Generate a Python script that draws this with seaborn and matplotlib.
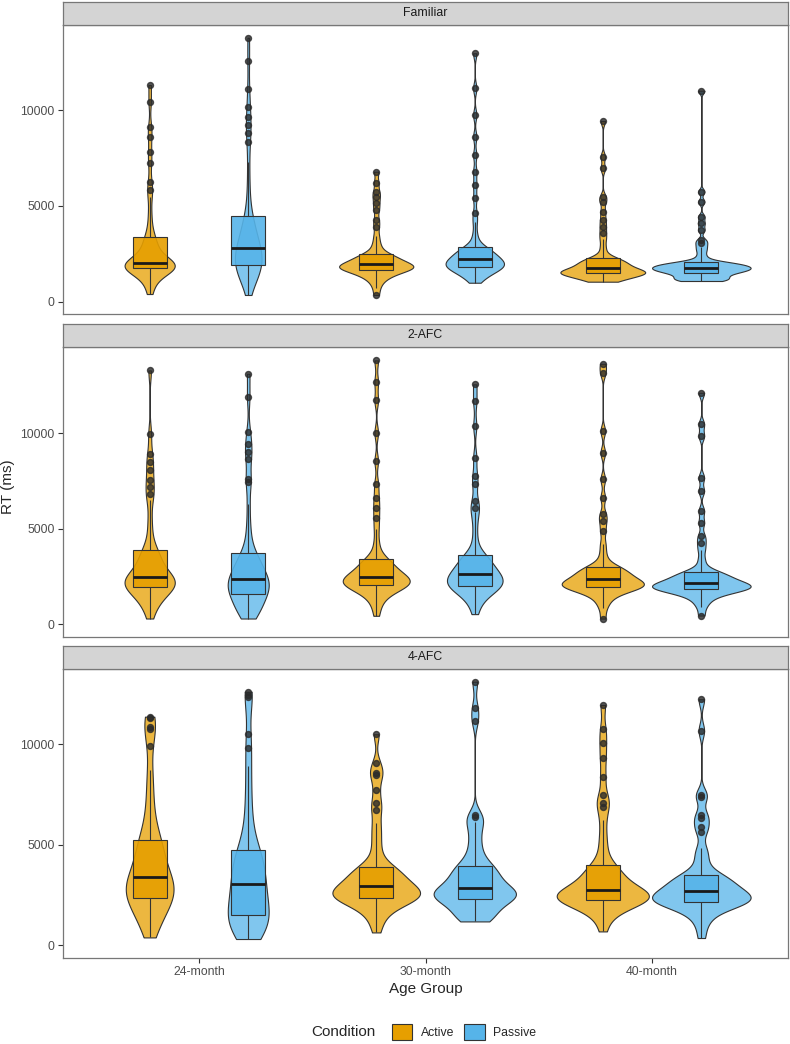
import numpy as np
import pandas as pd
import matplotlib.pyplot as plt
import seaborn as sns
from matplotlib.patches import Patch

sns.set_style("white")
plt.rcParams["font.family"] = ["Liberation Sans", "DejaVu Sans"]

tasks = ["Familiar", "2-AFC", "4-AFC"]
ages = ["24-month", "30-month", "40-month"]
conditions = ["Active", "Passive"]
colors = {"Active": "#E69F00", "Passive": "#56B4E9"}

# -----------------------------
# RT samples (ms), read off the violins / boxes / outliers
# -----------------------------
familiar_24_active = [
    400, 700, 950, 1150, 1300, 1420, 1510, 1580, 1640, 1690, 1730, 1755,
    1775,
    1795, 1815, 1835, 1855, 1875, 1895, 1915, 1935, 1960, 1980, 2000,
    2020,
    2080, 2150, 2230, 2320, 2420, 2530, 2650, 2780, 2930, 3080, 3230,
    3361,
    3650, 4100, 4700, 5450, 5850, 6265, 7220, 7830, 8610, 9135, 10440, 11310]
familiar_24_passive = [
    350, 800, 990, 1130, 1250, 1360, 1455, 1545, 1625, 1705, 1780, 1850,
    1915,
    1990, 2065, 2140, 2215, 2290, 2370, 2450, 2530, 2610, 2690, 2745,
    2800,
    2900, 3000, 3110, 3220, 3340, 3470, 3610, 3760, 3920, 4100, 4280,
    4473,
    4900, 5500, 6300, 7300, 8352, 8790, 9224, 9657, 10180, 11090, 12565, 13780]
familiar_30_active = [
    350, 700, 950, 1110, 1230, 1320, 1390, 1450, 1500, 1545, 1590, 1625,
    1655,
    1700, 1740, 1770, 1790, 1805, 1818, 1830, 1842, 1855, 1875, 1910,
    1950,
    1990, 2030, 2070, 2110, 2150, 2190, 2240, 2290, 2340, 2390, 2440,
    2490,
    2650, 2850, 3100, 3450, 3915, 4265, 4787, 5136, 5481, 5742, 6212, 6786]
familiar_30_passive = [
    990, 1150, 1270, 1360, 1440, 1510, 1570, 1625, 1675, 1720, 1760, 1780,
    1796,
    1830, 1865, 1900, 1935, 1970, 2005, 2040, 2075, 2110, 2145, 2180,
    2213,
    2260, 2310, 2360, 2410, 2460, 2515, 2570, 2630, 2690, 2750, 2810,
    2871,
    3150, 3550, 4150, 4614, 5397, 6091, 6786, 7658, 8613, 9746, 11140, 12966]
familiar_40_active = [
    1044, 1070, 1110, 1160, 1220, 1280, 1330, 1370, 1405, 1435, 1455, 1470,
    1482,
    1495, 1510, 1525, 1540, 1555, 1570, 1585, 1600, 1620, 1650, 1700,
    1775,
    1810, 1850, 1890, 1930, 1970, 2010, 2050, 2100, 2150, 2200, 2235,
    2265,
    2500, 2850, 3250, 3570, 3915, 4265, 4698, 5220, 5481, 6963, 7569, 9433]
familiar_40_passive = [
    1080, 1095, 1115, 1140, 1170, 1205, 1245, 1290, 1340, 1395, 1450, 1490,
    1514,
    1540, 1565, 1590, 1615, 1640, 1665, 1690, 1710, 1730, 1750, 1763,
    1775,
    1800, 1825, 1850, 1875, 1900, 1925, 1950, 1975, 2000, 2020, 2040,
    2057,
    2200, 2400, 2650, 2850, 3048, 3221, 3743, 4092, 4437, 5220, 5742, 11014]

afc2_24_active = [
    303, 700, 950, 1130, 1280, 1410, 1520, 1620, 1710, 1790, 1860, 1915,
    1963,
    2005, 2050, 2095, 2140, 2185, 2230, 2275, 2320, 2365, 2410, 2450,
    2485,
    2570, 2660, 2760, 2870, 2990, 3110, 3240, 3380, 3530, 3680, 3800,
    3896,
    4300, 4900, 5600, 6500, 6841, 7192, 7542, 8064, 8498, 8933, 9979, 13295]
afc2_24_passive = [
    303, 430, 560, 680, 800, 910, 1020, 1130, 1240, 1350, 1450, 1535,
    1611,
    1680, 1750, 1820, 1890, 1960, 2030, 2100, 2170, 2240, 2300, 2350,
    2395,
    2480, 2570, 2660, 2760, 2860, 2970, 3080, 3200, 3330, 3460, 3590,
    3724,
    4100, 4600, 5300, 6300, 7452, 7626, 8672, 9022, 9456, 10068, 11898, 13117]
afc2_30_active = [
    445, 900, 1200, 1400, 1550, 1670, 1770, 1850, 1920, 1970, 2010, 2032,
    2050,
    2090, 2130, 2170, 2210, 2250, 2290, 2330, 2370, 2410, 2445, 2475,
    2502,
    2570, 2640, 2710, 2780, 2860, 2940, 3020, 3110, 3200, 3290, 3370,
    3443,
    3800, 4300, 5000, 5586, 6109, 6632, 7332, 8551, 10031, 11726, 12683, 13818]
afc2_30_passive = [
    533, 950, 1200, 1380, 1520, 1630, 1720, 1800, 1870, 1930, 1975, 1995,
    2014,
    2070, 2125, 2180, 2235, 2290, 2345, 2400, 2455, 2510, 2560, 2595,
    2625,
    2700, 2780, 2860, 2940, 3020, 3110, 3200, 3290, 3390, 3490, 3560,
    3619,
    4000, 4600, 5300, 5900, 6109, 6459, 7332, 7767, 8724, 10382, 11690, 12563]
afc2_40_active = [
    300, 850, 1150, 1350, 1500, 1620, 1710, 1780, 1840, 1880, 1915, 1935,
    1950,
    1990, 2030, 2060, 2085, 2105, 2125, 2145, 2170, 2205, 2250, 2310,
    2364,
    2420, 2470, 2520, 2570, 2630, 2690, 2750, 2810, 2870, 2930, 2980,
    3020,
    3300, 3700, 4200, 4890, 5413, 5763, 6632, 7595, 8985, 10120, 13170, 13640]
afc2_40_passive = [
    460, 900, 1150, 1320, 1450, 1550, 1630, 1690, 1740, 1780, 1810, 1832,
    1850,
    1875, 1900, 1925, 1950, 1975, 2000, 2030, 2060, 2090, 2115, 2135,
    2155,
    2200, 2250, 2300, 2350, 2400, 2450, 2500, 2560, 2620, 2680, 2715,
    2746,
    3000, 3400, 3900, 4278, 4629, 5324, 5936, 6982, 7677, 9859, 10470, 12123]

afc4_24_active = [
    378, 700, 950, 1180, 1380, 1560, 1720, 1860, 1990, 2110, 2210, 2280,
    2338,
    2430, 2520, 2610, 2700, 2790, 2880, 2970, 3060, 3150, 3240, 3310,
    3363,
    3500, 3640, 3790, 3940, 4100, 4260, 4430, 4600, 4780, 4960, 5100,
    5239,
    5500, 5800, 6200, 6700, 7300, 8000, 8722, 9915, 10746, 10846, 11293, 11373]
afc4_24_passive = [
    298, 420, 530, 640, 750, 850, 950, 1050, 1150, 1250, 1340, 1410,
    1473,
    1600, 1730, 1860, 1990, 2120, 2250, 2380, 2510, 2650, 2800, 2930,
    3050,
    3180, 3320, 3460, 3600, 3750, 3900, 4050, 4200, 4360, 4520, 4620,
    4707,
    5100, 5500, 6000, 6600, 7300, 8100, 8920, 9801, 10497, 12338, 12452, 12617]
afc4_30_active = [
    627, 1100, 1400, 1620, 1790, 1920, 2030, 2120, 2190, 2250, 2290, 2315,
    2338,
    2390, 2440, 2490, 2540, 2590, 2640, 2690, 2740, 2790, 2840, 2880,
    2915,
    3000, 3080, 3160, 3240, 3320, 3400, 3490, 3580, 3680, 3780, 3840,
    3880,
    4200, 4600, 5100, 5600, 6100, 6731, 7064, 7726, 8472, 8557, 9054, 10497]
afc4_30_passive = [
    1175, 1230, 1300, 1390, 1500, 1620, 1740, 1860, 1980, 2090, 2190, 2260,
    2303,
    2360, 2410, 2450, 2480, 2505, 2530, 2560, 2595, 2640, 2700, 2770,
    2836,
    2920, 3010, 3100, 3190, 3280, 3380, 3480, 3580, 3690, 3800, 3860,
    3910,
    4100, 4350, 4650, 5000, 5400, 5800, 6150, 6380, 6450, 11159, 11791, 13114]
afc4_40_active = [
    677, 1200, 1480, 1680, 1820, 1930, 2020, 2090, 2150, 2195, 2225, 2242,
    2254,
    2290, 2330, 2370, 2410, 2450, 2490, 2530, 2575, 2620, 2660, 2690,
    2716,
    2800, 2890, 2980, 3080, 3180, 3290, 3400, 3520, 3640, 3760, 3870,
    3960,
    4400, 4900, 5500, 6234, 6895, 7064, 7477, 8388, 9303, 10050, 10746, 11955]
afc4_40_passive = [
    348, 900, 1250, 1480, 1650, 1780, 1880, 1960, 2020, 2070, 2105, 2125,
    2139,
    2185, 2230, 2275, 2320, 2365, 2410, 2455, 2500, 2550, 2600, 2635,
    2667,
    2740, 2810, 2880, 2950, 3020, 3090, 3170, 3250, 3330, 3410, 3460,
    3497,
    3800, 4150, 4500, 4826, 5652, 5900, 6318, 6482, 7393, 7477, 10676, 12239]

rt_lists = {
    ("Familiar", "24-month", "Active"): familiar_24_active,
    ("Familiar", "24-month", "Passive"): familiar_24_passive,
    ("Familiar", "30-month", "Active"): familiar_30_active,
    ("Familiar", "30-month", "Passive"): familiar_30_passive,
    ("Familiar", "40-month", "Active"): familiar_40_active,
    ("Familiar", "40-month", "Passive"): familiar_40_passive,
    ("2-AFC", "24-month", "Active"): afc2_24_active,
    ("2-AFC", "24-month", "Passive"): afc2_24_passive,
    ("2-AFC", "30-month", "Active"): afc2_30_active,
    ("2-AFC", "30-month", "Passive"): afc2_30_passive,
    ("2-AFC", "40-month", "Active"): afc2_40_active,
    ("2-AFC", "40-month", "Passive"): afc2_40_passive,
    ("4-AFC", "24-month", "Active"): afc4_24_active,
    ("4-AFC", "24-month", "Passive"): afc4_24_passive,
    ("4-AFC", "30-month", "Active"): afc4_30_active,
    ("4-AFC", "30-month", "Passive"): afc4_30_passive,
    ("4-AFC", "40-month", "Active"): afc4_40_active,
    ("4-AFC", "40-month", "Passive"): afc4_40_passive,
}

rows = []
for (task, age, cond), values in rt_lists.items():
    for v in values:
        rows.append({"Task": task, "Age": age, "Condition": cond, "RT": v})
df = pd.DataFrame(rows)

y_limits = {"Familiar": (-642, 14441), "2-AFC": (-665, 14518), "4-AFC": (-647, 13746)}


def nrd0(kde):
    # R's default bandwidth rule (bw.nrd0), as a factor of the sd
    x = kde.dataset[0]
    sd = x.std(ddof=1)
    iqr = np.subtract(*np.percentile(x, [75, 25]))
    return 0.9 * min(sd, iqr / 1.34) * len(x) ** -0.2 / sd


# -----------------------------
# Figure layout (pixels)
# -----------------------------
W, H = 790, 1044
fig = plt.figure(figsize=(W / 100, H / 100), dpi=100)
left, right = 63, 788
panels_px = [(25, 314), (347, 637), (669, 958)]
border = "#777777"

for i, (task, (top, bottom)) in enumerate(zip(tasks, panels_px)):
    ax = fig.add_axes([left / W, 1 - bottom / H, (right - left) / W, (bottom - top) / H])
    sub = df[df["Task"] == task]

    sns.violinplot(data=sub, x="Age", y="RT", hue="Condition", order=ages,
                   hue_order=conditions, palette=colors, saturation=1,
                   width=0.87, cut=0, inner=None, density_norm="area",
                   common_norm=True, bw_method=nrd0, bw_adjust=0.85, gridsize=400,
                   linewidth=0.8, linecolor="#333333", legend=False, ax=ax)
    for coll in ax.collections:
        fc = coll.get_facecolor()
        fc[:, 3] = 0.75
        coll.set_facecolor(fc)

    sns.boxplot(data=sub, x="Age", y="RT", hue="Condition", order=ages,
                hue_order=conditions, palette=colors, saturation=1,
                width=0.87, gap=0.655, linewidth=0.8, linecolor="#333333",
                fliersize=4.3, showcaps=False,
                flierprops=dict(marker="o", markerfacecolor="#2b2b2b",
                                markeredgecolor="#2b2b2b", alpha=0.8),
                medianprops=dict(color="#1a1a1a", linewidth=2),
                legend=False, ax=ax)
    for patch in ax.patches:
        r, g, b, _ = patch.get_facecolor()
        patch.set_facecolor((r, g, b, 0.9))

    ax.set_xlim(-0.6, 2.6)
    ax.set_ylim(*y_limits[task])
    ax.set_yticks([0, 5000, 10000])
    ax.set_xlabel("")
    ax.set_ylabel("")
    ax.tick_params(axis="y", left=True, length=3.5, width=0.8, color="#333333",
                   labelsize=8.8, labelcolor="#4D4D4D", pad=2.5)
    if i == len(tasks) - 1:
        ax.tick_params(axis="x", bottom=True, length=3.5, width=0.8, color="#333333",
                       labelsize=8.8, labelcolor="#4D4D4D", pad=2.5)
    else:
        ax.tick_params(axis="x", bottom=False, labelbottom=False)
    for s in ax.spines.values():
        s.set_color(border)
        s.set_linewidth(0.9)

    strip = fig.add_axes([left / W, 1 - top / H, (right - left) / W, 23.5 / H])
    strip.set_facecolor("#D4D4D4")
    strip.set_xticks([])
    strip.set_yticks([])
    for s in strip.spines.values():
        s.set_color(border)
        s.set_linewidth(0.9)
    strip.text(0.5, 0.5, task, ha="center", va="center", fontsize=8.8,
               color="#1A1A1A", transform=strip.transAxes)

fig.text(8.5 / W, 1 - 487 / H, "RT (ms)", rotation=90, ha="center", va="center",
         fontsize=11)
fig.text(425.5 / W, 1 - 989 / H, "Age Group", ha="center", va="center", fontsize=11)

fig.text(376 / W, 1 - 1032 / H, "Condition", ha="right", va="center", fontsize=11)
handles = [Patch(facecolor=colors[c], edgecolor="#333333", linewidth=0.8) for c in conditions]
fig.legend(handles, conditions, loc="center", bbox_to_anchor=(464 / W, 1 - 1032 / H),
           ncol=2, frameon=False, fontsize=8.8, handlelength=1.7, handleheight=1.7,
           handletextpad=0.7, columnspacing=0.8, borderpad=0, borderaxespad=0)

fig.savefig("out.png", dpi=100)
